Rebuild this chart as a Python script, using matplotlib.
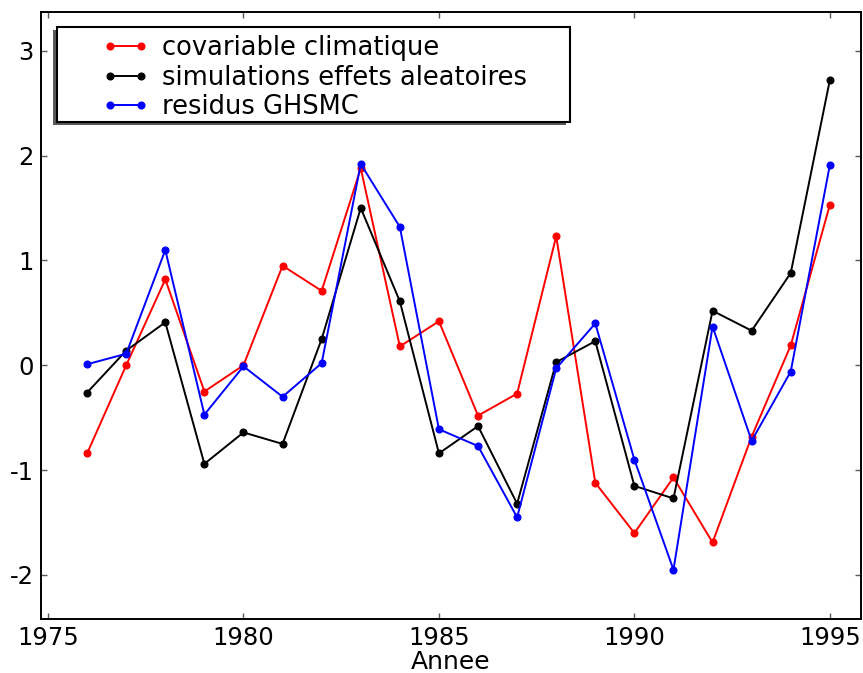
import matplotlib
matplotlib.use("Agg")
import matplotlib.pyplot as plt
from matplotlib.patches import Rectangle

# données
annees = list(range(1976, 1996))
covariable = [-0.84, 0.00, 0.82, -0.25, 0.00, 0.95, 0.71, 1.88, 0.18, 0.42,
              -0.48, -0.27, 1.23, -1.12, -1.60, -1.07, -1.69, -0.68, 0.19, 1.53]
simulations = [-0.26, 0.14, 0.41, -0.94, -0.64, -0.75, 0.25, 1.50, 0.61, -0.84,
               -0.58, -1.32, 0.03, 0.23, -1.15, -1.27, 0.52, 0.33, 0.88, 2.72]
residus = [0.01, 0.11, 1.10, -0.47, -0.01, -0.30, 0.02, 1.92, 1.32, -0.61,
           -0.77, -1.45, -0.03, 0.40, -0.90, -1.95, 0.37, -0.72, -0.06, 1.91]

plt.rcParams['font.family'] = ['DejaVu Sans']
plt.rcParams['axes.unicode_minus'] = False

fig = plt.figure(figsize=(8.63, 6.73), dpi=100)
ax = fig.add_axes([0.0475, 0.0802, 0.9503, 0.902])

ax.plot(annees, covariable, '-o', color='red', lw=1.4, ms=4.8,
        label='covariable climatique')
ax.plot(annees, simulations, '-o', color='black', lw=1.4, ms=4.8,
        label='simulations effets aleatoires')
ax.plot(annees, residus, '-o', color='blue', lw=1.4, ms=4.8,
        label='residus GHSMC')

ax.set_xlim(1974.82, 1995.8)
ax.set_ylim(-2.42, 3.37)
ax.set_xticks([1975, 1980, 1985, 1990, 1995])
ax.set_yticks([-2, -1, 0, 1, 2, 3])
ax.tick_params(direction='in', length=4, width=1, color='0.35',
               top=True, right=True, labelsize=17.5, pad=5)
for s in ax.spines.values():
    s.set_linewidth(1.4)
ax.set_xlabel('Annee', fontsize=18, labelpad=0)

# cadre de la légende avec ombre décalée vers la gauche et le bas
x0, y0, w, h = 0.0195, 0.8195, 0.6255, 0.1555
ax.add_patch(Rectangle((x0 - 0.0049, y0 - 0.0049), w, h, transform=ax.transAxes,
                       facecolor='0.35', edgecolor='none', zorder=4.4))
ax.add_patch(Rectangle((x0, y0), w, h, transform=ax.transAxes,
                       facecolor='white', edgecolor='black', lw=1.5, zorder=4.5))

leg = ax.legend(loc='upper left', bbox_to_anchor=(0.0745, 0.962),
                fontsize=18.5, frameon=False, numpoints=2,
                handlelength=1.8, handletextpad=0.55, labelspacing=0.14,
                borderpad=0, borderaxespad=0)
leg.set_zorder(5)

fig.savefig('out.png', dpi=100)
